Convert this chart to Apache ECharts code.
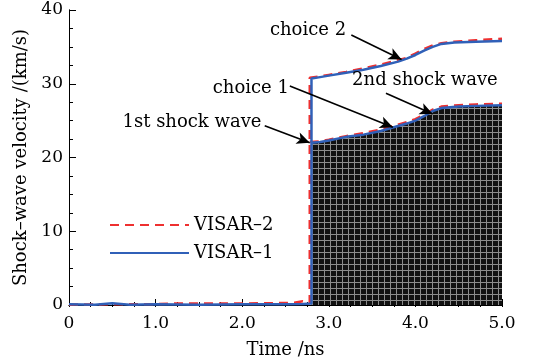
<!DOCTYPE html>
<html>
<head>
<meta charset="utf-8">
<script src="https://cdn.jsdelivr.net/npm/echarts@6/dist/echarts.min.js"></script>
<style>
  html, body { margin: 0; padding: 0; background: #fff; }
  #chart { width: 533px; height: 364px; }
</style>
</head>
<body>
<div id="chart"></div>
<script>
// VISAR-1 (blue, solid)
var v1Early = [[0, 0.1], [0.3, 0.05], [0.5, 0.25], [0.7, 0.05], [1.0, 0.1], [1.5, 0.05], [2.0, 0.1], [2.5, 0.1], [2.7, 0.15], [2.8, 0.2]];
var v1Upper = [[2.8, 30.7], [2.9, 30.9], [3.0, 31.1], [3.2, 31.5], [3.4, 31.9], [3.6, 32.4], [3.8, 33.0], [3.9, 33.4], [4.0, 33.9], [4.1, 34.5], [4.2, 35.0], [4.3, 35.4], [4.45, 35.6], [4.7, 35.7], [5.0, 35.8]];
var v1Lower = [[2.8, 22.0], [2.9, 22.1], [3.0, 22.3], [3.2, 22.8], [3.4, 23.1], [3.6, 23.6], [3.75, 24.1], [3.9, 24.6], [4.0, 25.0], [4.1, 25.6], [4.2, 26.3], [4.3, 26.7], [4.5, 26.9], [4.7, 27.0], [5.0, 27.1]];
// VISAR-2 (red, dashed)
var v2Early = [[0, 0.05], [0.5, 0.1], [1.0, 0.1], [1.2, 0.2], [1.5, 0.2], [2.0, 0.2], [2.4, 0.25], [2.6, 0.3], [2.7, 0.5], [2.75, 0.3], [2.78, 0.3]];
var v2Upper = [[2.78, 30.8], [2.9, 31.0], [3.0, 31.2], [3.2, 31.6], [3.4, 32.1], [3.6, 32.6], [3.8, 33.2], [3.9, 33.5], [4.0, 34.1], [4.1, 34.7], [4.2, 35.2], [4.3, 35.5], [4.45, 35.7], [4.7, 35.9], [5.0, 36.1]];
var v2Lower = [[2.78, 22.1], [2.9, 22.2], [3.0, 22.4], [3.2, 22.9], [3.4, 23.3], [3.6, 23.8], [3.75, 24.3], [3.9, 24.8], [4.0, 25.2], [4.1, 25.8], [4.2, 26.5], [4.3, 26.9], [4.5, 27.1], [4.7, 27.2], [5.0, 27.3]];

// annotation texts and arrows (data coords)
var labelTexts = ["choice 2", "choice 1", "2nd shock wave", "1st shock wave"];
var labelPos = [[2.76, 37.3], [2.10, 29.4], [4.11, 30.4], [1.42, 24.8]];
var arrowFrom = [[3.26, 36.6], [2.55, 29.7], [3.66, 28.7], [2.26, 24.3]];
var arrowTo = [[3.84, 33.3], [3.74, 24.1], [4.2, 25.9], [2.78, 22.0]];

var xTicks = [0, 1, 2, 3, 4, 5];

var BLUE = "#3060b8";
var RED = "#ee3030";
var FONT = "DejaVu Serif";

// black fill with white grid
var pat = document.createElement("canvas");
pat.width = 6;
pat.height = 6;
var ctx = pat.getContext("2d");
ctx.fillStyle = "#111";
ctx.fillRect(0, 0, 6, 6);
ctx.fillStyle = "#8c8c8c";
ctx.fillRect(0, 0, 6, 1);
ctx.fillRect(0, 0, 1, 6);

var myChart = echarts.init(document.getElementById("chart"));

var arrows = [];
for (var i = 0; i < arrowFrom.length; i++) {
  arrows.push([{ coord: arrowFrom[i] }, { coord: arrowTo[i] }]);
}
var labels = [];
for (var j = 0; j < labelTexts.length; j++) {
  labels.push({ name: labelTexts[j], value: labelPos[j] });
}

var axisLine = { show: true, lineStyle: { color: "#000", width: 1 } };

var option = {
  animation: false,
  backgroundColor: "#fff",
  grid: { left: 69, right: 31, top: 10, bottom: 58 },
  legend: {
    data: ["VISAR-2", "VISAR-1"],
    orient: "vertical",
    left: 109,
    top: 216,
    itemWidth: 79,
    itemHeight: 14,
    itemGap: 10,
    padding: 0,
    itemStyle: { opacity: 0 },
    textStyle: { fontFamily: FONT, fontSize: 18, color: "#000" },
    formatter: function (n) {
      return n.replace("-", "\u2013");
    },
  },
  xAxis: [
    {
      type: "value",
      min: 0,
      max: 5,
      interval: 1,
      name: "Time /ns",
      nameLocation: "middle",
      nameGap: 36,
      nameTextStyle: { fontFamily: FONT, fontSize: 18, color: "#000" },
      axisLine: axisLine,
      axisTick: { show: true, inside: true, length: 6, lineStyle: { color: "#000" } },
      minorTick: { show: true, splitNumber: 4, length: 3, lineStyle: { color: "#000" } },
      splitLine: { show: false },
      axisLabel: {
        margin: 10,
        fontFamily: FONT,
        fontSize: 17,
        color: "#000",
        formatter: function (v) {
          return xTicks.indexOf(v) === 0 ? "0" : v.toFixed(1);
        },
      },
    },
    {
      type: "value",
      position: "top",
      min: 0,
      max: 5,
      interval: 1,
      axisLine: axisLine,
      axisTick: { show: true, inside: true, length: 2, lineStyle: { color: "#000" } },
      minorTick: { show: true, splitNumber: 4, length: 2, lineStyle: { color: "#000" } },
      splitLine: { show: false },
      axisLabel: { show: false },
    },
  ],
  yAxis: [
    {
      type: "value",
      min: 0,
      max: 40,
      interval: 10,
      name: "Shock\u2013wave velocity /(km/s)",
      nameLocation: "middle",
      nameGap: 37,
      nameTextStyle: { fontFamily: FONT, fontSize: 18, color: "#000" },
      axisLine: axisLine,
      axisTick: { show: true, inside: true, length: 7, lineStyle: { color: "#000" } },
      minorTick: { show: true, splitNumber: 4, length: 4, lineStyle: { color: "#000" } },
      splitLine: { show: false },
      axisLabel: { margin: 6, fontFamily: FONT, fontSize: 17, color: "#000" },
    },
    {
      type: "value",
      position: "right",
      min: 0,
      max: 40,
      interval: 10,
      axisLine: axisLine,
      axisTick: { show: false },
      splitLine: { show: false },
      axisLabel: { show: false },
    },
  ],
  series: [
    {
      name: "fill",
      type: "line",
      data: v1Lower,
      symbol: "none",
      z: 1,
      lineStyle: { width: 0 },
      areaStyle: { color: { image: pat, repeat: "repeat" }, opacity: 1 },
    },
    {
      name: "VISAR-2",
      type: "line",
      data: v2Early.concat(v2Upper),
      symbol: "none",
      z: 3,
      color: RED,
      lineStyle: { color: RED, width: 2.5, type: [9, 6] },
    },
    {
      name: "VISAR-2",
      type: "line",
      data: v2Lower,
      symbol: "none",
      z: 3,
      color: RED,
      lineStyle: { color: RED, width: 2.5, type: [9, 6] },
    },
    {
      name: "VISAR-1",
      type: "line",
      data: v1Early.concat(v1Upper),
      symbol: "none",
      z: 4,
      color: BLUE,
      lineStyle: { color: BLUE, width: 2.5 },
    },
    {
      name: "VISAR-1",
      type: "line",
      data: v1Lower,
      symbol: "none",
      z: 4,
      color: BLUE,
      lineStyle: { color: BLUE, width: 2.5 },
    },
    {
      name: "notes",
      type: "scatter",
      data: labels,
      symbolSize: 0.01,
      z: 5,
      itemStyle: { color: "#000", opacity: 1 },
      label: {
        show: true,
        position: "inside",
        formatter: "{b}",
        fontFamily: FONT,
        fontSize: 18,
        color: "#000",
        opacity: 1,
        textBorderWidth: 0,
      },
      markLine: {
        silent: true,
        symbol: ["none", "arrow"],
        symbolSize: [9, 13],
        label: { show: false },
        lineStyle: { color: "#000", width: 1.6, type: "solid" },
        data: arrows,
      },
    },
  ],
};

option && myChart.setOption(option, true);
</script>
</body>
</html>
